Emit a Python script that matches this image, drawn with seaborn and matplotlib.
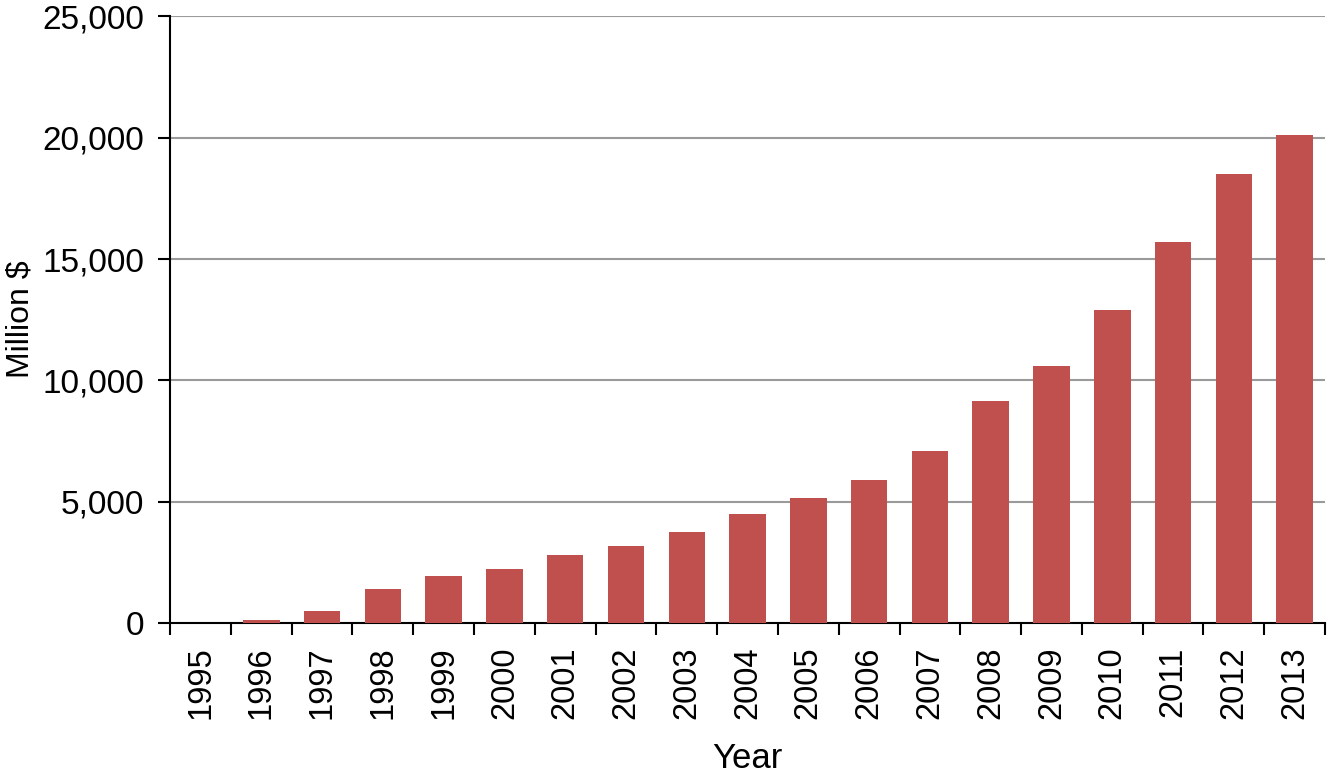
import matplotlib
matplotlib.use("Agg")
import matplotlib.pyplot as plt
import seaborn as sns
import pandas as pd
import numpy as np
from matplotlib.ticker import FuncFormatter, FixedLocator

# =========================
# DATA
# =========================
years = ["1995", "1996", "1997", "1998", "1999", "2000", "2001", "2002", "2003",
         "2004", "2005", "2006", "2007", "2008", "2009", "2010", "2011", "2012", "2013"]
million_usd = [0, 120, 490, 1400, 1935, 2210, 2800, 3170, 3750,
               4490, 5140, 5890, 7070, 9170, 10580, 12890, 15690, 18490, 20110]
y_ticks = [0, 5000, 10000, 15000, 20000, 25000]

df = pd.DataFrame({"Year": years, "Million $": million_usd})

# =========================
# STYLE
# =========================
sns.set_style("white")
plt.rcParams["font.family"] = ["Liberation Sans", "DejaVu Sans"]
plt.rcParams["text.color"] = "black"
plt.rcParams["axes.labelcolor"] = "black"
plt.rcParams["xtick.color"] = "black"
plt.rcParams["ytick.color"] = "black"

fig = plt.figure(figsize=(13.29, 7.75), dpi=100)
ax = fig.add_axes([0.128, 0.196, 0.869, 0.783])

sns.barplot(data=df, x="Year", y="Million $", color="#C0504D",
            saturation=1, width=0.6, linewidth=0, ax=ax, zorder=3)

ax.set_ylim(0, 25000)
ax.set_xlim(-0.5, len(years) - 0.5)
ax.set_yticks(y_ticks)
ax.yaxis.set_major_formatter(FuncFormatter(lambda v, p: f"{int(v):,}"))

# gridlines (skip 0)
for v in y_ticks[1:]:
    ax.axhline(v, color="#9a9a9a", lw=1.5, zorder=1)

# category boundary ticks on x axis
ax.xaxis.set_minor_locator(FixedLocator(np.arange(-0.5, len(years), 1.0)))
ax.tick_params(axis="x", which="major", length=0, pad=17, labelsize=23.5,
               rotation=90, labelcolor="black")
ax.tick_params(axis="x", which="minor", length=8.6, width=1.5,
               direction="out", color="black", bottom=True)
ax.tick_params(axis="y", which="major", length=8.6, width=1.5,
               direction="out", color="black", left=True, pad=10,
               labelsize=24, labelcolor="black")

for side in ["top", "right"]:
    ax.spines[side].set_visible(False)
for side in ["left", "bottom"]:
    ax.spines[side].set_color("black")
    ax.spines[side].set_linewidth(1.5)

ax.set_xlabel("Year", fontsize=25, labelpad=16, color="black")
ax.set_ylabel("Million $", fontsize=23, labelpad=5, color="black")

fig.savefig("out.png", dpi=100)
